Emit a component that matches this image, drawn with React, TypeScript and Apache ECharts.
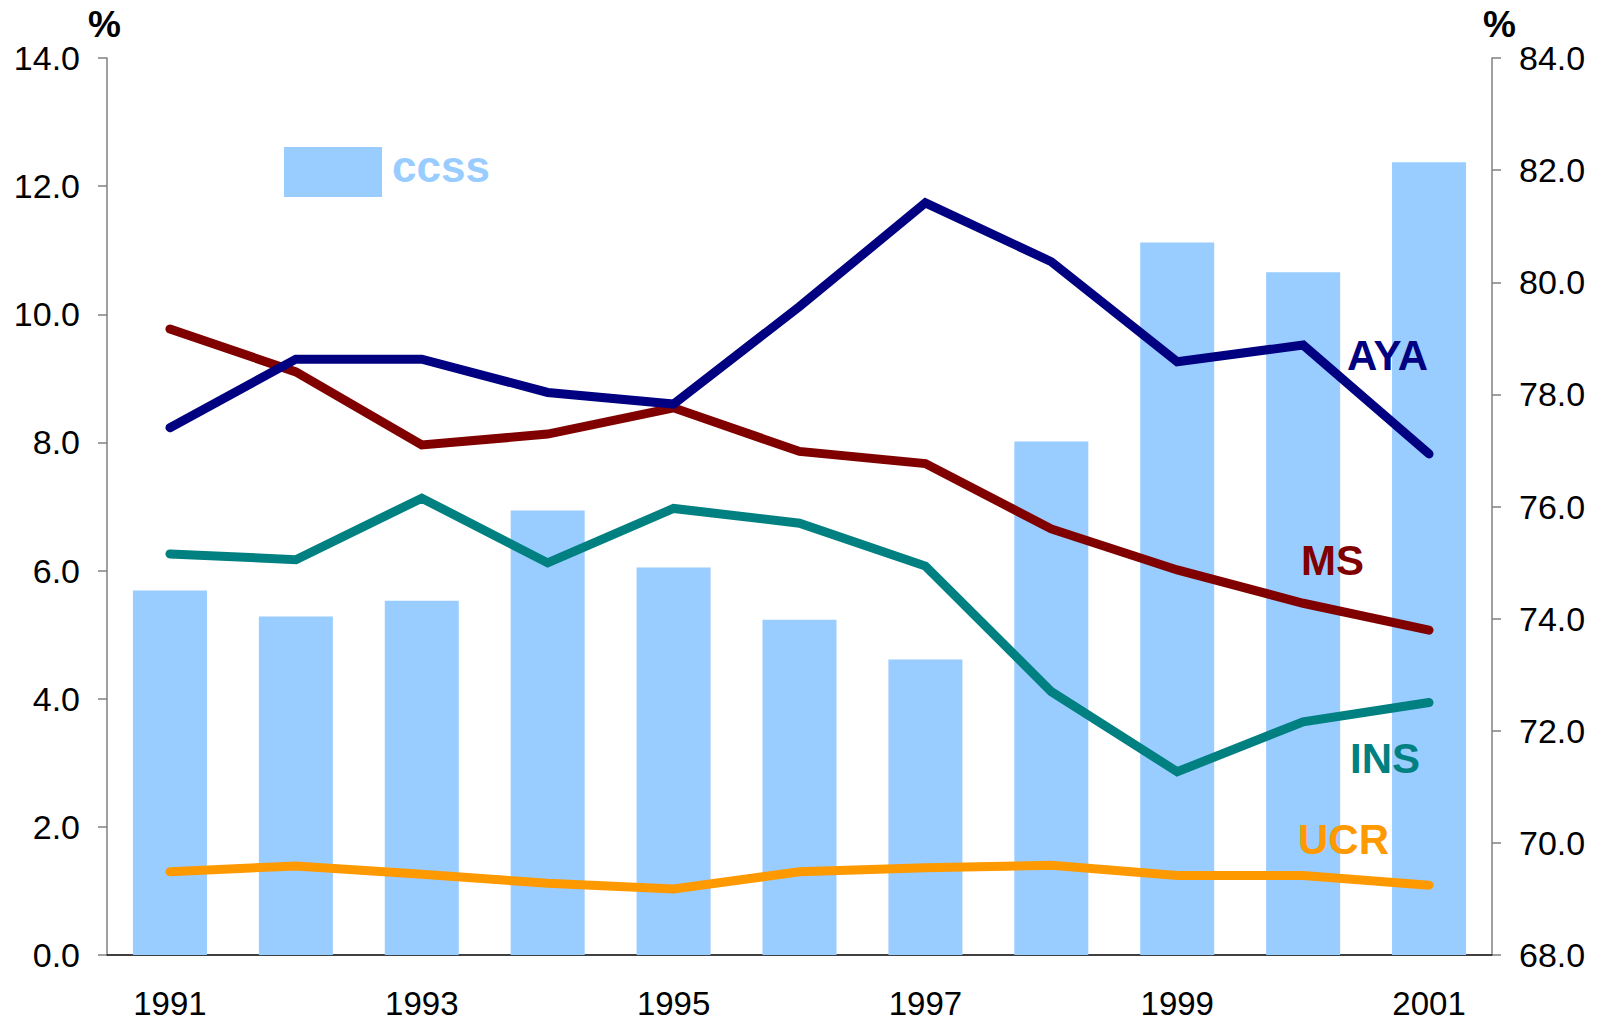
import React, { useEffect, useRef } from "react";
import * as echarts from "echarts";

const years = ["1991", "1992", "1993", "1994", "1995", "1996", "1997", "1998", "1999", "2000", "2001"];
const ccss = [74.5, 74.04, 74.32, 75.93, 74.91, 73.98, 73.27, 77.16, 80.71, 80.18, 82.14];
const aya = [8.23, 9.3, 9.3, 8.78, 8.6, 10.12, 11.74, 10.82, 9.26, 9.52, 7.82];
const ms = [9.77, 9.1, 7.96, 8.13, 8.54, 7.86, 7.67, 6.65, 6.01, 5.49, 5.07];
const ins = [6.26, 6.17, 7.13, 6.12, 6.97, 6.74, 6.07, 4.11, 2.86, 3.64, 3.94];
const ucr = [1.3, 1.39, 1.26, 1.12, 1.03, 1.3, 1.36, 1.4, 1.24, 1.24, 1.09];

const FONT = "'Liberation Sans', Arial, sans-serif";
const BAR_COLOR = "#99CCFF";

export default function App() {
  const ref = useRef<HTMLDivElement>(null);
  useEffect(() => {
    if (!ref.current) return;
    const chart = echarts.init(ref.current, undefined, { renderer: "svg" });
    const lineSeries = (name: string, data: number[], color: string) => ({
      name,
      type: "line",
      yAxisIndex: 0,
      data,
      symbol: "none",
      lineStyle: { color, width: 9, cap: "round", join: "miter" },
      itemStyle: { color },
      z: 3,
    });
    const label = (text: string, x: number, y: number, color: string, size = 42) => ({
      type: "text",
      left: x,
      top: y,
      z: 100,
      style: {
        text,
        fill: color,
        font: `bold ${size}px ${FONT}`,
      },
    });
    chart.setOption({
      animation: false,
      backgroundColor: "#ffffff",
      textStyle: { fontFamily: FONT },
      grid: { left: 107, right: 111, top: 58, bottom: 67, containLabel: false },
      xAxis: {
        type: "category",
        data: years,
        boundaryGap: true,
        axisLine: { lineStyle: { color: "#000000", width: 1.5 } },
        axisTick: { interval: 1, length: 9, lineStyle: { color: "#000000", width: 1.5 } },
        axisLabel: { interval: 1, color: "#000000", fontSize: 33, margin: 32, fontFamily: FONT },
        splitLine: { show: false },
      },
      yAxis: [
        {
          type: "value",
          min: 0,
          max: 14,
          interval: 2,
          position: "left",
          axisLine: { show: true, lineStyle: { color: "#808080", width: 1.5 } },
          axisTick: { show: true, length: 9, lineStyle: { color: "#808080", width: 1.5 } },
          axisLabel: {
            color: "#000000",
            fontSize: 34,
            margin: 27,
            fontFamily: FONT,
            formatter: (v: number) => v.toFixed(1),
          },
          splitLine: { show: false },
        },
        {
          type: "value",
          min: 68,
          max: 84,
          interval: 2,
          position: "right",
          axisLine: { show: true, lineStyle: { color: "#808080", width: 1.5 } },
          axisTick: { show: true, length: 9, lineStyle: { color: "#808080", width: 1.5 } },
          axisLabel: {
            color: "#000000",
            fontSize: 34,
            margin: 27,
            fontFamily: FONT,
            formatter: (v: number) => v.toFixed(1),
          },
          splitLine: { show: false },
        },
      ],
      series: [
        {
          name: "ccss",
          type: "bar",
          yAxisIndex: 1,
          data: ccss,
          barWidth: 74,
          itemStyle: { color: BAR_COLOR },
          z: 1,
        },
        lineSeries("UCR", ucr, "#FF9900"),
        lineSeries("INS", ins, "#008080"),
        lineSeries("MS", ms, "#800000"),
        lineSeries("AYA", aya, "#000080"),
      ],
      graphic: [
        { type: "text", left: 88, top: 6, z: 100, style: { text: "%", fill: "#000", font: `bold 37px ${FONT}` } },
        { type: "text", left: 1483, top: 6, z: 100, style: { text: "%", fill: "#000", font: `bold 37px ${FONT}` } },
        { type: "rect", left: 284, top: 147, z: 100, shape: { width: 98, height: 50 }, style: { fill: BAR_COLOR } },
        label("ccss", 392, 144, BAR_COLOR, 44),
        label("AYA", 1347, 334, "#000080"),
        label("MS", 1301, 539, "#800000"),
        label("INS", 1350, 737, "#008080"),
        label("UCR", 1298, 818, "#FF9900"),
      ],
    });
    return () => chart.dispose();
  }, []);
  return (
    <div
      ref={ref}
      style={{ position: "fixed", left: 0, top: 0, width: 1603, height: 1022, background: "#fff" }}
    />
  );
}
